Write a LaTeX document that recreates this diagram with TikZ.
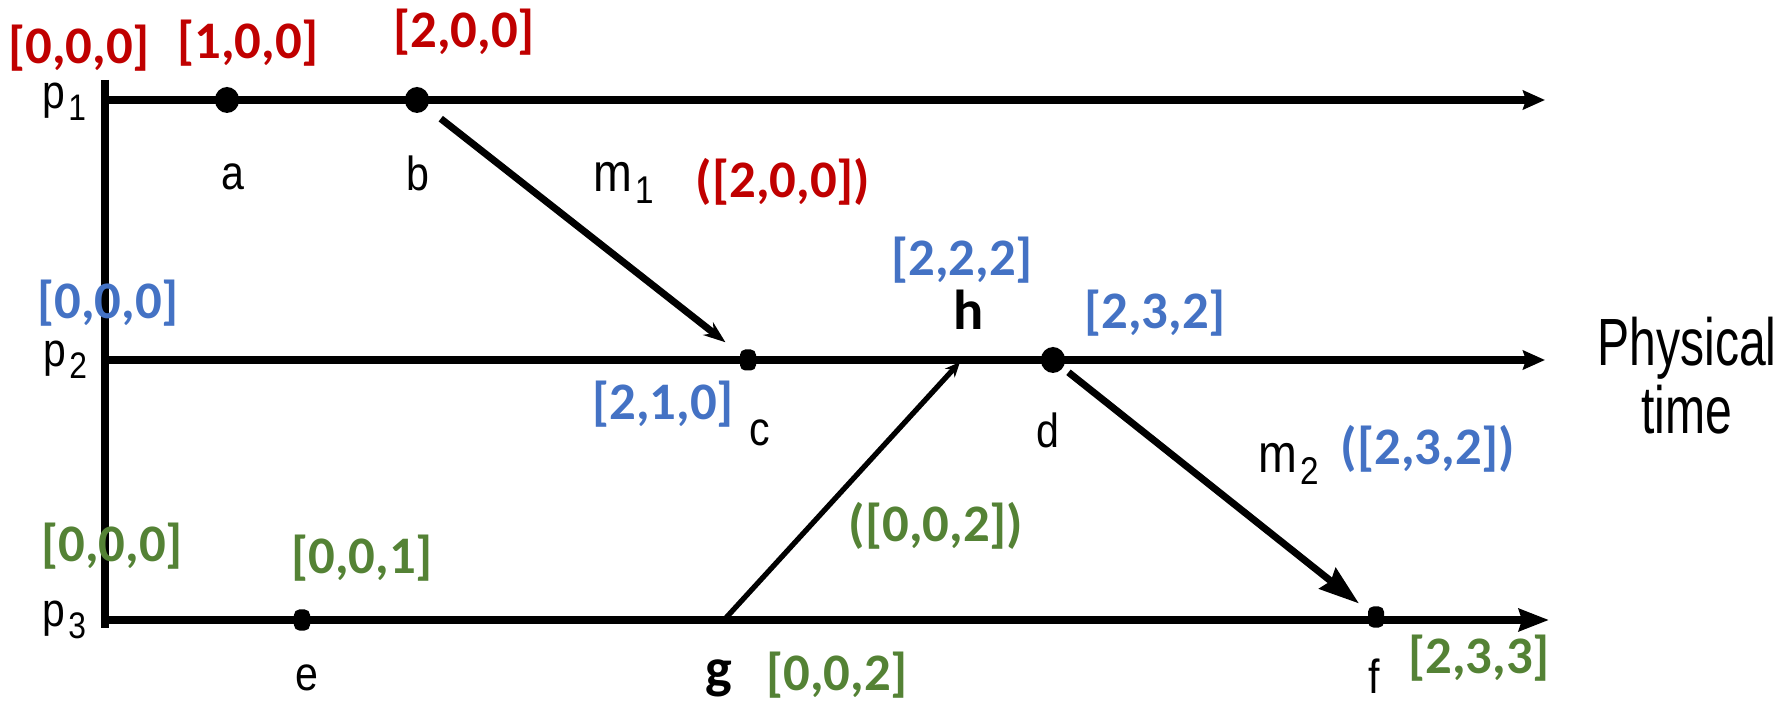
\documentclass[tikz,border=0pt]{standalone}
\usepackage{fontspec}
\setmainfont{Liberation Sans}
\newfontfamily\evfont[FakeStretch=0.86]{Liberation Sans}
\newfontfamily\timefont[FakeStretch=0.72]{Liberation Sans}
\newfontfamily\vcfont{Carlito}
\usepackage{xcolor}
\usetikzlibrary{arrows.meta, positioning}
\definecolor{vcred}{RGB}{192,0,0}
\definecolor{vcblue}{RGB}{68,114,196}
\definecolor{vcgreen}{RGB}{84,130,53}
\newcommand{\lowidx}[2]{\kern1pt\raisebox{-3.4pt}{\fontsize{#1}{#1}\selectfont #2}}

\begin{document}
\begin{tikzpicture}[
    x=0.01cm, y=-0.01cm,
    every node/.style={inner sep=0pt},
    proc/.style={line width=2pt, -{Stealth[length=0.22cm, width=0.19cm, inset=0.03cm]}},
    event/.style={fill, rounded corners=1.5pt, minimum width=0.16cm, minimum height=0.21cm},
    bigevent/.style={event, minimum width=0.24cm, minimum height=0.26cm, rounded corners=3.5pt},
    evlabel/.style={font=\evfont\fontsize{13.6}{16}\selectfont},
    plabel/.style={font=\evfont\fontsize{13.5}{16}\selectfont},
    mlabel/.style={font=\evfont\fontsize{15.4}{18}\selectfont},
    stamp/.style={font=\vcfont\bfseries\fontsize{15}{18}\selectfont},
    msg/.style={line width=2pt, -{Stealth[length=0.22cm, width=0.16cm]}}
  ]
  \useasboundingbox (0,0) rectangle (1785,701);

  % time axis and processes
  \coordinate (top) at (105,80);
  \coordinate (bot) at (105,628);
  \draw[line width=2pt] (top) -- (bot);
  \coordinate (p1end) at (1545,100);
  \coordinate (p2end) at (1545,360);
  \coordinate (p3end) at (1549,620);
  \draw[proc] (105,100) -- (p1end);
  \draw[proc] (105,360) -- (p2end);
  \draw[line width=2pt, -{Stealth[length=0.3cm, width=0.22cm, inset=0.03cm]}] (105,620) -- (p3end);

  \node[plabel] (p1) at (64,102) {p\lowidx{10.5}{1}};
  \node[plabel] (p2) at (65,360) {p\lowidx{10.5}{2}};
  \node[plabel] (p3) at (64,620) {p\lowidx{10.5}{3}};

  % events
  \node[bigevent] (a) at (227,100) {};
  \node[bigevent] (b) at (417,100) {};
  \node[event] (c) at (748,360) {};
  \node[bigevent] (d) at (1053,360) {};
  \node[event] (e) at (302,620) {};
  \node[event] (f) at (1376,617) {};
  \coordinate (g) at (724,620);
  \coordinate (h) at (960,362);

  \node[evlabel] (la) at (233,177) {a};
  \node[evlabel] (lb) at (418,173) {b};
  \node[evlabel] (lc) at (760,433) {c};
  \node[evlabel] (ld) at (1048,430) {d};
  \node[evlabel] (le) at (307,678) {e};
  \node[evlabel] (lf) at (1374,676) {f};
  \node[stamp, font=\vcfont\bfseries\fontsize{16}{19}\selectfont] (lg) at (719,678) {g};
  \node[stamp, font=\vcfont\bfseries\fontsize{16}{19}\selectfont] (lh) at (969,310) {h};

  % messages
  \draw[msg, shorten <=4pt, shorten >=5pt] (b) -- (c);
  \draw[line width=2pt, -{Stealth[length=0.4cm, width=0.26cm, inset=0.04cm]}, shorten <=1pt, shorten >=3pt] (d) -- (f);
  \draw[line width=1.5pt, -{Stealth[length=0.15cm, width=0.13cm]}] (g) -- (h);
  \node[mlabel] (m1) at (624,183) {m\lowidx{11}{1}};
  \node[mlabel] (m2) at (1289,464) {m\lowidx{11}{2}};
  \node[align=center, font=\timefont\fontsize{19}{19.4}\selectfont] (phys) at (1687,376) {Physical\\time};

  % vector clocks
  \node[stamp, text=vcred] (vr0) at (79,48) {[0,0,0]};
  \node[stamp, text=vcred] (vra) at (248,43) {[1,0,0]};
  \node[stamp, text=vcred] (vrb) at (464,32) {[2,0,0]};
  \node[stamp, text=vcred] (vrm) at (783,182) {([2,0,0])};

  \node[stamp, text=vcblue] (vb0) at (108,303) {[0,0,0]};
  \node[stamp, text=vcblue] (vbc) at (663,404) {[2,1,0]};
  \node[stamp, text=vcblue] (vbh) at (962,260) {[2,2,2]};
  \node[stamp, text=vcblue] (vbd) at (1155,313) {[2,3,2]};
  \node[stamp, text=vcblue] (vbm) at (1428,449) {([2,3,2])};

  \node[stamp, text=vcgreen] (vg0) at (112,546) {[0,0,0]};
  \node[stamp, text=vcgreen] (vge) at (362,558) {[0,0,1]};
  \node[stamp, text=vcgreen] (vgm) at (936,526) {([0,0,2])};
  \node[stamp, text=vcgreen] (vgg) at (837,675) {[0,0,2]};
  \node[stamp, text=vcgreen] (vgf) at (1479,658) {[2,3,3]};
\end{tikzpicture}
\end{document}
